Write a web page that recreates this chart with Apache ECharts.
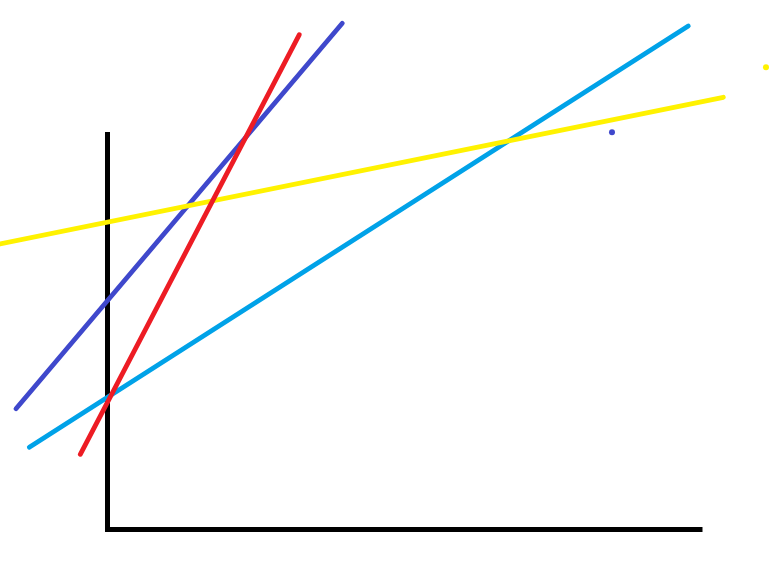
<!DOCTYPE html>
<html>
<head>
<meta charset="utf-8">
<script src="https://cdn.jsdelivr.net/npm/echarts@6/dist/echarts.min.js"></script>
<style>
html,body{margin:0;padding:0;background:#fff;}
#chart{width:773px;height:585px;}
</style>
</head>
<body>
<div id="chart"></div>
<script>
// Values (axis units: the drawn axes run 0..10 in x and y)
var axesLine = [[0, 10], [0, 0], [10, 0]];
var indigoLine = [[-1.538, 3.039], [3.946, 12.735]];
var turquoiseLine = [[-1.314, 2.068], [9.761, 12.667]];
var yellowLine = [[-1.807, 7.182], [10.350, 10.873]];
var redLine = [[-0.457, 1.892], [3.224, 12.448]];
var indigoDot = [[8.479, 9.992]];
var yellowDot = [[11.067, 11.628]];

var chart = echarts.init(document.getElementById('chart'));
function lineSeries(data, color, width, cap, z) {
  return {
    type: 'line',
    data: data,
    clip: false,
    symbol: 'none',
    silent: true,
    z: z,
    lineStyle: { color: color, width: width, cap: cap, join: cap === 'round' ? 'round' : 'miter' }
  };
}
chart.setOption({
  animation: false,
  backgroundColor: '#ffffff',
  grid: { left: 0, top: 0, right: 0, bottom: 0, containLabel: false },
  xAxis: {
    type: 'value', min: -1.8067, max: 11.1849,
    axisLine: { show: false }, axisTick: { show: false }, axisLabel: { show: false }, splitLine: { show: false }
  },
  yAxis: {
    type: 'value', min: -1.3962, max: 13.3208,
    axisLine: { show: false }, axisTick: { show: false }, axisLabel: { show: false }, splitLine: { show: false }
  },
  series: [
    lineSeries(axesLine, '#000000', 5, 'butt', 1),
    lineSeries(indigoLine, '#3f48cc', 4.8, 'round', 2),
    lineSeries(turquoiseLine, '#00a2e8', 4.8, 'round', 3),
    lineSeries(yellowLine, '#fff200', 4.8, 'round', 4),
    lineSeries(redLine, '#ed1c24', 4.8, 'round', 5),
    { type: 'scatter', data: indigoDot, clip: false, symbolSize: 6, z: 6, itemStyle: { color: '#3f48cc', opacity: 1 } },
    { type: 'scatter', data: yellowDot, clip: false, symbolSize: 6, z: 6, itemStyle: { color: '#fff200', opacity: 1 } }
  ]
});
</script>
</body>
</html>
